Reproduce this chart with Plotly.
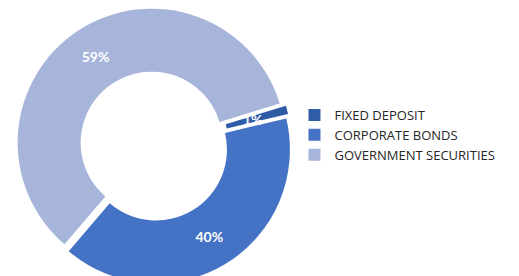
import math
import plotly.graph_objects as go

categories = ["FIXED DEPOSIT", "CORPORATE BONDS", "GOVERNMENT SECURITIES"]
values = [1, 40, 59]
colors = ["#2F5CA6", "#4472C4", "#A7B5DB"]

W, H = 519, 276
ROT = 73
HOLE = 0.53
PULL = 0.03
DOM_X = [0, 0.562]

# the thinnest slice gets its label as an annotation, placed from the data
small = [v / sum(values) < 0.03 for v in values]
templates = ["" if s else "<b>%{percent:.0%}</b>" for s in small]

fig = go.Figure(go.Pie(
    labels=categories,
    values=values,
    hole=HOLE,
    sort=False,
    direction="clockwise",
    rotation=ROT,
    pull=[PULL] * len(values),
    marker=dict(colors=colors, line=dict(width=0)),
    texttemplate=templates,
    textposition="inside",
    insidetextorientation="horizontal",
    textfont=dict(color="white", size=14, family="Lato"),
    domain=dict(x=DOM_X, y=[0, 1]),
))

# position labels for thin slices from the same geometry Plotly uses
cx = (DOM_X[0] + DOM_X[1]) / 2 * W
cy = H / 2
r = min((DOM_X[1] - DOM_X[0]) * W, H) / 2 / (1 + PULL)
total = sum(values)
cum = 0
for v, s in zip(values, small):
    mid = ROT + 360 * (cum + v / 2) / total
    cum += v
    if not s:
        continue
    rm = r * (1 + HOLE) / 2
    px = cx + rm * math.sin(math.radians(mid))
    py = cy - rm * math.cos(math.radians(mid))
    fig.add_annotation(
        x=px / W, y=1 - py / H, xref="paper", yref="paper",
        text="<b>%d%%</b>" % round(100 * v / total), showarrow=False,
        font=dict(color="white", size=14, family="Lato"),
    )

fig.update_layout(
    width=W, height=H,
    margin=dict(l=0, r=0, t=0, b=0),
    paper_bgcolor="white",
    plot_bgcolor="white",
    showlegend=True,
    legend=dict(
        x=0.552, y=0.54, xanchor="left", yanchor="middle",
        font=dict(family="Open Sans", size=13, color="#262626"),
        itemwidth=30,
        tracegroupgap=0,
    ),
)

fig.write_html("out.html")
